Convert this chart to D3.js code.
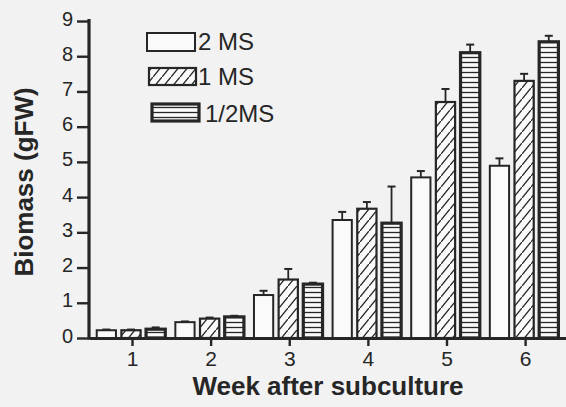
<!DOCTYPE html>
<html>
<head>
<meta charset="utf-8">
<script src="https://cdn.jsdelivr.net/npm/d3@7"></script>
<style>
  html, body { margin: 0; padding: 0; background: #f2f2f2; }
  svg { display: block; }
  text { font-family: "Liberation Sans", Arial, Helvetica, sans-serif; fill: #262626; }
</style>
</head>
<body>
<svg id="chart" width="566" height="407"></svg>
<script>
// ---- data ----
const weeks = [1, 2, 3, 4, 5, 6];
const series = ["2 MS", "1 MS", "1/2MS"];
const values2MS   = [0.22, 0.45, 1.22, 3.35, 4.56, 4.89];
const values1MS   = [0.22, 0.55, 1.66, 3.67, 6.70, 7.30];
const valuesHalf  = [0.25, 0.60, 1.53, 3.26, 8.10, 8.41];
const err2MS  = [0.02, 0.02, 0.12, 0.23, 0.18, 0.21];
const err1MS  = [0.02, 0.03, 0.30, 0.19, 0.37, 0.20];
const errHalf = [0.05, 0.03, 0.04, 1.04, 0.23, 0.17];
const yTicks = [0, 1, 2, 3, 4, 5, 6, 7, 8, 9];
const xLabel = "Week after subculture";
const yLabel = "Biomass (gFW)";

const seriesValues = [values2MS, values1MS, valuesHalf];
const seriesErrors = [err2MS, err1MS, errHalf];

// ---- layout ----
const ink = "#262626";
const svg = d3.select("#chart");
svg.append("rect").attr("width", 566).attr("height", 407).attr("fill", "#f2f2f2");

const x = d3.scaleLinear().domain([0.453, 6.52]).range([89, 566]);
const y = d3.scaleLinear().domain([0, 9]).range([338, 21]);
const inner = d3.scaleBand().domain(series).range([-38, 36]).paddingInner(0.22).paddingOuter(0.11);

// patterns
const defs = svg.append("defs");
const hatch = defs.append("pattern").attr("id", "hatch")
  .attr("patternUnits", "userSpaceOnUse").attr("width", 9).attr("height", 11);
hatch.append("rect").attr("width", 9).attr("height", 11).attr("fill", "#fafafa");
hatch.append("path").attr("d", "M-1,12.2 L10,-1.2").attr("stroke", ink).attr("stroke-width", 1.4);

const stripe = defs.append("pattern").attr("id", "stripe")
  .attr("patternUnits", "userSpaceOnUse").attr("width", 10).attr("height", 5);
stripe.append("rect").attr("width", 10).attr("height", 5).attr("fill", "#fafafa");
stripe.append("path").attr("d", "M0,2.5 L10,2.5").attr("stroke", ink).attr("stroke-width", 1.3);

const fills = ["#fafafa", "url(#hatch)", "url(#stripe)"];
const strokeW = [2, 2.2, 3.2];

// bars
series.forEach((s, si) => {
  const g = svg.append("g").attr("class", "series");
  const data = weeks.map((w, i) => ({ w, v: seriesValues[si][i], e: seriesErrors[si][i] }));
  // error bars
  g.selectAll("line.err").data(data).join("line")
    .attr("x1", d => x(d.w) + inner(s) + inner.bandwidth() / 2)
    .attr("x2", d => x(d.w) + inner(s) + inner.bandwidth() / 2)
    .attr("y1", d => y(d.v))
    .attr("y2", d => y(d.v + d.e))
    .attr("stroke", ink).attr("stroke-width", 1.8);
  g.selectAll("line.cap").data(data).join("line")
    .attr("x1", d => x(d.w) + inner(s) + inner.bandwidth() / 2 - 4)
    .attr("x2", d => x(d.w) + inner(s) + inner.bandwidth() / 2 + 4)
    .attr("y1", d => y(d.v + d.e))
    .attr("y2", d => y(d.v + d.e))
    .attr("stroke", ink).attr("stroke-width", 2);
  g.selectAll("rect").data(data).join("rect")
    .attr("x", d => x(d.w) + inner(s))
    .attr("width", inner.bandwidth())
    .attr("y", d => y(d.v))
    .attr("height", d => y(0) - y(d.v))
    .attr("fill", fills[si])
    .attr("stroke", ink)
    .attr("stroke-width", strokeW[si]);
});

// axes
const yAxis = d3.axisLeft(y).tickValues(yTicks).tickSize(12).tickSizeOuter(0).tickPadding(4).tickFormat(d3.format("d"));
const gy = svg.append("g").attr("transform", "translate(89,0)").call(yAxis);
gy.select(".domain").attr("stroke", ink).attr("stroke-width", 3.2).attr("d", `M0,${y(9) - 2}V${y(0) + 1.5}`);
gy.selectAll(".tick line").attr("stroke", ink).attr("stroke-width", 2.4);
gy.selectAll(".tick text").attr("font-size", 20).attr("fill", ink).attr("dy", "0.2em")
  .style("font-family", '"Liberation Sans", Arial, sans-serif');

const xAxis = d3.axisBottom(x).tickValues(weeks).tickSize(8).tickSizeOuter(0).tickPadding(5).tickFormat(d3.format("d"));
const gx = svg.append("g").attr("transform", `translate(0,${y(0)})`).call(xAxis);
gx.select(".domain").attr("stroke", ink).attr("stroke-width", 3.2);
gx.selectAll(".tick line").attr("stroke", ink).attr("stroke-width", 2.4);
gx.selectAll(".tick text").attr("font-size", 21).attr("fill", ink)
  .style("font-family", '"Liberation Sans", Arial, sans-serif');
gy.raise(); gx.raise();

// axis titles
svg.append("text")
  .attr("transform", "translate(33,182) rotate(-90)")
  .attr("text-anchor", "middle")
  .attr("font-size", 26).attr("font-weight", "bold")
  .text(yLabel);
svg.append("text")
  .attr("x", 328).attr("y", 395)
  .attr("text-anchor", "middle")
  .attr("font-size", 26).attr("font-weight", "bold")
  .text(xLabel);

// legend
const legendBoxes = [
  { x: 147, y: 33, w: 48, h: 18, tx: 198, ty: 50 },
  { x: 149, y: 68, w: 47, h: 17, tx: 198, ty: 85 },
  { x: 152, y: 104, w: 47, h: 17, tx: 205, ty: 122 }
];
const lg = svg.append("g").attr("class", "legend");
series.forEach((s, si) => {
  const b = legendBoxes[si];
  lg.append("rect").attr("x", b.x).attr("y", b.y).attr("width", b.w).attr("height", b.h)
    .attr("fill", fills[si]).attr("stroke", ink).attr("stroke-width", strokeW[si]);
  lg.append("text").attr("x", b.tx).attr("y", b.ty).attr("font-size", 24).text(s);
});
</script>
</body>
</html>
